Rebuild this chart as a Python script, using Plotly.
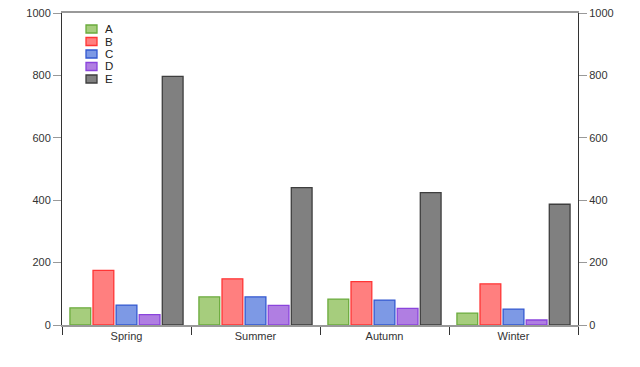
import plotly.graph_objects as go

categories = ["Spring", "Summer", "Autumn", "Winter"]
series_names = ["A", "B", "C", "D", "E"]
values_A = [55, 90, 83, 38]
values_B = [175, 148, 139, 132]
values_C = [64, 90, 80, 51]
values_D = [33, 63, 53, 16]
values_E = [797, 440, 424, 387]
y_ticks = [0, 200, 400, 600, 800, 1000]

series_values = [values_A, values_B, values_C, values_D, values_E]
fills = ["#a6cd7d", "#ff7f7f", "#7d99e5", "#b07ee2", "#808080"]
borders = ["#6aab3c", "#ff3535", "#3358d0", "#8a44dc", "#3e3e3e"]

fig = go.Figure()
for name, vals, fc, bc in zip(series_names, series_values, fills, borders):
    fig.add_trace(go.Bar(
        x=categories, y=vals, name=name,
        marker=dict(color=fc, line=dict(color=bc, width=1.3)),
        showlegend=False,
    ))
# invisible trace to anchor right axis
fig.add_trace(go.Scatter(x=categories, y=[None]*len(categories), yaxis="y2",
                         showlegend=False, hoverinfo="skip"))

font = dict(family="Liberation Sans, Arial, sans-serif", size=11, color="#333333")

# manual legend
plot_w, plot_h = 516, 312
row_y = [29, 41.5, 54, 66.5, 79]
for name, fc, bc, yc in zip(series_names, fills, borders, row_y):
    yp = (325 - yc) / plot_h
    fig.add_shape(type="rect", xref="paper", yref="paper",
                  x0=(86 - 62) / plot_w, x1=(97 - 62) / plot_w,
                  y0=yp - 4 / plot_h, y1=yp + 4 / plot_h,
                  fillcolor=fc, line=dict(color=bc, width=1.3))
    fig.add_annotation(xref="paper", yref="paper", x=(103 - 62) / plot_w, y=yp,
                       text=name, showarrow=False, xanchor="left", yanchor="middle",
                       font=dict(family="Liberation Sans, Arial, sans-serif", size=11.5, color="#222222"))

fig.update_layout(
    width=640, height=367,
    margin=dict(l=62, r=62, t=13, b=42, autoexpand=False),
    paper_bgcolor="white", plot_bgcolor="white",
    barmode="group", bargap=0.105, bargroupgap=0.1,
    font=font,
    xaxis=dict(type="category", categoryorder="array", categoryarray=categories,
               showline=True, linecolor="#999999", linewidth=1.5, mirror=True,
               ticks="outside", tickson="boundaries", ticklen=8, tickcolor="#333333",
               tickwidth=1, showgrid=False, zeroline=False, tickfont=font,
               automargin=False),
    yaxis=dict(range=[0, 1000], tickvals=y_ticks, showline=True, linecolor="#333333",
               linewidth=1, ticks="outside", ticklen=8, tickcolor="#999999",
               showgrid=False, zeroline=False, tickfont=font, automargin=False,
               ticklabeloverflow="allow"),
    yaxis2=dict(range=[0, 1000], tickvals=y_ticks, overlaying="y", side="right",
                showline=True, linecolor="#333333", linewidth=1, ticks="outside",
                ticklen=8, tickcolor="#999999", showgrid=False, zeroline=False,
                tickfont=font, automargin=False, ticklabeloverflow="allow"),
)

fig.write_html("out.html", config={"displayModeBar": False},
               post_script="document.body.style.margin='0px';")
